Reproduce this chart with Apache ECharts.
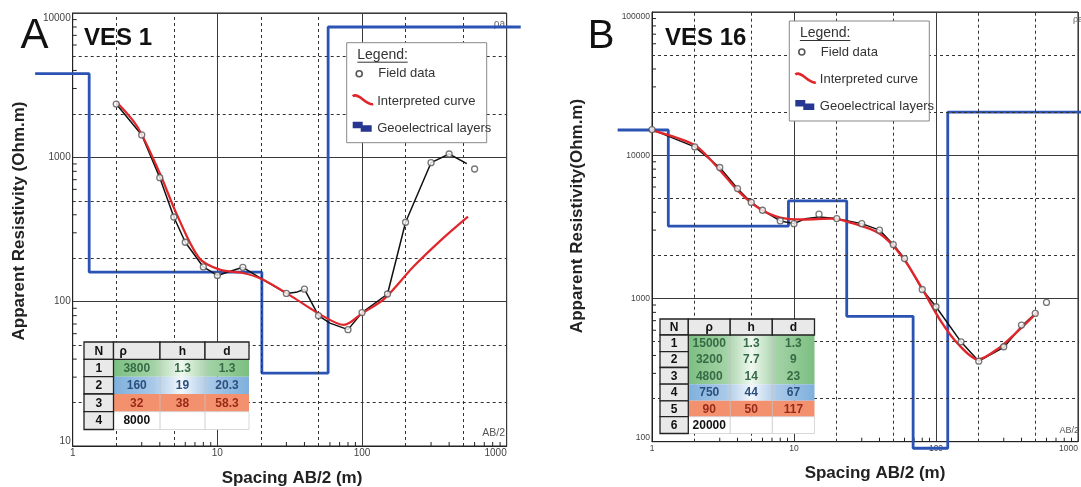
<!DOCTYPE html>
<html><head><meta charset="utf-8">
<script src="https://cdn.jsdelivr.net/npm/echarts@6/dist/echarts.min.js"></script>
<style>html,body{margin:0;padding:0;background:#fff}#c{width:1081px;height:487px}</style>
</head><body><div id="c"></div>
<script>
// ================= DATA =================
// Panel A : VES 1
const fieldA_AB  = [2,3,4,5,6,8,10,15,30,40,50,80,100,150,200,300,400,600];
const fieldA_Rho = [2340,1430,723,386,258,174,152,173,114,122,80,64,84,113,355,918,1055,830];
const traceA_AB  = [2,3,4,5,6,8,10,15,20,30,35,40,50,60,80,100,150,200,300,400,530];
const traceA_Rho = [2340,1430,723,386,258,174,152,173,145,114,116,122,80,71,64,84,113,355,918,1055,905];
const fitA_AB    = [2,2.8,4,5.2,7.5,10.5,15,20.4,33,52,75,100,143,227,353,540];
const fitA_Rho   = [2430,1630,775,410,200,166,158,143,108,81,69,83,105,175,268,388];
const layersA_rho = [3800,160,32,8000];
const layersA_h   = [1.3,19,38];
const layersA_d   = [1.3,20.3,58.3];
const layersA_ends = [0.55,1250];

// Panel B : VES 16
const fieldB_AB  = [1,2,3,4,5,6,8,10,15,20,30,40,50,60,80,100,150,200,300,400,500,600];
const fieldB_Rho = [15100,11430,8210,5850,4680,4130,3480,3330,3875,3610,3330,3000,2380,1900,1155,875,498,365,460,652,786,938];
const traceB_AB  = [1,2,3,4,5,6,8,10,12,15,20,30,40,50,60,80,100,150,200,300,400,500];
const traceB_Rho = [15100,11430,8210,5850,4680,4130,3480,3330,3600,3710,3610,3330,3000,2380,1900,1155,875,498,365,455,640,786];
const fitB_AB    = [1,2,2.94,4.1,5.7,8,11.7,18.3,24,40,58,81,107,142,198,275,383,520];
const fitB_Rho   = [14930,11750,8070,5550,4250,3670,3560,3610,3430,2840,1950,1143,706,485,375,448,601,807];
const layersB_rho = [15000,3200,4800,750,90,20000];
const layersB_h   = [1.3,7.7,14,44,50];
const layersB_d   = [1.3,9,23,67,117];
const layersB_ends = [0.575,1000];

// axis tick values
const dashedX  = [2,5,20,50,200,500];
const dashedYA = [20,50,200,500,2000,5000];
const dashedYB = [200,500,2000,5000,20000,50000];
const minorX   = [3,4,6,7,8,9,30,40,60,70,80,90,300,400,600,700,800,900];
const minorYA  = [30,40,60,70,80,90,300,400,600,700,800,900,3000,4000,6000,7000,8000,9000];
const minorYB  = [300,400,600,700,800,900,3000,4000,6000,7000,8000,9000,30000,40000,60000,70000,80000,90000];

// ================= HELPERS =================
const FF = '"Liberation Sans", Arial, sans-serif';
const zip = (a,b) => a.map((v,i)=>[v,b[i]]);
function layerSteps(rho, depth, ends){
  const pts=[[ends[0],rho[0]]];
  for(let i=0;i<depth.length;i++){pts.push([depth[i],rho[i]]);pts.push([depth[i],rho[i+1]]);}
  pts.push([ends[1],rho[rho.length-1]]);
  return pts;
}
function xAxisDef(gi,fs){
  return {type:'log',logBase:10,gridIndex:gi,min:1,max:1000,
    axisLine:{show:true,lineStyle:{color:'#222',width:1}},axisTick:{show:false},
    splitLine:{show:true,lineStyle:{color:'#3a3a3a',width:1}},
    axisLabel:{show:true,fontSize:fs,fontFamily:FF,color:'#444',margin:2,showMinLabel:true,showMaxLabel:true,
      alignMaxLabel:'right',formatter:v=>String(Math.round(v))}};
}
function yAxisDef(gi,min,max,fs){
  return {type:'log',logBase:10,gridIndex:gi,min,max,
    axisLine:{show:true,lineStyle:{color:'#222',width:1}},axisTick:{show:false},
    splitLine:{show:true,lineStyle:{color:'#3a3a3a',width:1}},
    axisLabel:{show:true,fontSize:fs,fontFamily:FF,color:'#444',margin:2,showMinLabel:true,showMaxLabel:true,
      verticalAlignMinLabel:'bottom',verticalAlignMaxLabel:'top',formatter:v=>String(Math.round(v))}};
}
function hiddenAxis(gi,min,max){
  return {type:'log',logBase:10,gridIndex:gi,min,max,show:false,splitLine:{show:false}};
}
function dashedSeries(gi,xs,ys){
  return {type:'line',xAxisIndex:gi,yAxisIndex:gi,data:[],silent:true,z:1,showSymbol:false,
    markLine:{silent:true,symbol:['none','none'],label:{show:false},animation:false,
      lineStyle:{type:[3,3],color:'#333',width:1},
      emphasis:{disabled:true},
      data:[...xs.map(v=>({xAxis:v})),...ys.map(v=>({yAxis:v}))]}};
}
function tickSeries(gi,vals,isX,other){
  return {type:'custom',xAxisIndex:gi,yAxisIndex:gi,silent:true,z:3,
    data: vals.map(v=> isX?[v,other]:[other,v]),
    renderItem:(p,api)=>{
      const c=api.coord([api.value(0),api.value(1)]);
      const shape = isX?{x1:c[0],y1:c[1],x2:c[0],y2:c[1]-4}:{x1:c[0],y1:c[1],x2:c[0]+4,y2:c[1]};
      return {type:'line',shape,style:{stroke:'#222',lineWidth:1}};
    }};
}
function txt(s,x,y,font,fill,align,extra){
  return Object.assign({type:'text',x,y,z:100,style:{text:s,font,fill:fill||'#222',
    align:align||'left',textAlign:align||'left',verticalAlign:'middle',textVerticalAlign:'middle'}},extra||{});
}
function legendGraphics(x0,y0){
  const F13='13px '+FF;
  return [
    {type:'rect',z:99,shape:{x:x0,y:y0,width:140,height:100},style:{fill:'#fff',stroke:'#888',lineWidth:1}},
    txt('Legend:',x0+10.6,y0+12.5,'14px '+FF,'#333'),
    {type:'line',z:100,shape:{x1:x0+10.6,y1:y0+19.5,x2:x0+61,y2:y0+19.5},style:{stroke:'#333',lineWidth:1}},
    {type:'circle',z:100,shape:{cx:x0+12.5,cy:y0+31,r:3},style:{fill:'#fff',stroke:'#555',lineWidth:1.6}},
    txt('Field data',x0+31.5,y0+31,F13,'#333'),
    {type:'bezierCurve',z:100,shape:{x1:x0+6,y1:y0+53.5,cpx1:x0+12,cpy1:y0+49,cpx2:x0+19,cpy2:y0+63,x2:x0+26.5,y2:y0+61.5},
      style:{stroke:'#e0262b',lineWidth:2.6,fill:null}},
    txt('Interpreted curve',x0+30.5,y0+58.5,F13,'#333'),
    {type:'polygon',z:100,shape:{points:[[x0+6,y0+79],[x0+16,y0+79],[x0+16,y0+82.5],[x0+25,y0+82.5],[x0+25,y0+89],[x0+14,y0+89],[x0+14,y0+85.5],[x0+6,y0+85.5]]},
      style:{fill:'#273690'}},
    txt('Geoelectrical layers',x0+30.5,y0+85.5,F13,'#333')
  ];
}
const bandStyle = {
  g:{fill:{type:'linear',x:0,y:0,x2:1,y2:0,colorStops:[{offset:0,color:'#7cbf81'},{offset:0.3,color:'#a3d2a6'},{offset:0.5,color:'#f0f8f0'},{offset:0.7,color:'#a3d2a6'},{offset:1,color:'#7cbf81'}]},text:'#356b45'},
  b:{fill:{type:'linear',x:0,y:0,x2:1,y2:0,colorStops:[{offset:0,color:'#7eb0dc'},{offset:0.3,color:'#aac9e8'},{offset:0.5,color:'#f2f7fc'},{offset:0.7,color:'#aac9e8'},{offset:1,color:'#7eb0dc'}]},text:'#2b4f7e'},
  r:{fill:'#f3916f',text:'#9a2a18'},
  w:{fill:'#ffffff',text:'#111'}
};
function tableGraphics(xs,ys,rho,h,d,classes,rhoHeadAlign){
  const els=[]; const FB='bold 12px '+FF;
  const n=rho.length;
  let i=0;
  while(i<n){
    let j=i; while(j+1<n && classes[j+1]===classes[i]) j++;
    const st=bandStyle[classes[i]];
    els.push({type:'rect',z:100,shape:{x:xs[1],y:ys[i+1],width:xs[4]-xs[1],height:ys[j+2]-ys[i+1]},
      style:{fill:st.fill,stroke:classes[i]==='w'?'#cfcfcf':null,lineWidth:0.8}});
    i=j+1;
  }
  [2,3].forEach(c=>els.push({type:'line',z:101,shape:{x1:xs[c],y1:ys[1],x2:xs[c],y2:ys[n+1]},style:{stroke:'#c4c4c4',lineWidth:0.8}}));
  const hd=['N','ρ','h','d'];
  for(let c=0;c<4;c++){
    els.push({type:'rect',z:102,shape:{x:xs[c],y:ys[0],width:xs[c+1]-xs[c],height:ys[1]-ys[0]},style:{fill:'#e9e9e9',stroke:'#222',lineWidth:1.3}});
    let al='center', xx=(xs[c]+xs[c+1])/2;
    if(c===1 && rhoHeadAlign==='left'){al='left'; xx=xs[1]+6;}
    els.push(txt(hd[c],xx,(ys[0]+ys[1])/2+1,FB,'#111',al,{z:103}));
  }
  for(let r=0;r<n;r++){
    const cy=(ys[r+1]+ys[r+2])/2+0.5;
    els.push({type:'rect',z:102,shape:{x:xs[0],y:ys[r+1],width:xs[1]-xs[0],height:ys[r+2]-ys[r+1]},style:{fill:'#e9e9e9',stroke:'#222',lineWidth:1.3}});
    els.push(txt(String(r+1),(xs[0]+xs[1])/2,cy,FB,'#111','center',{z:103}));
    const col=bandStyle[classes[r]].text;
    els.push(txt(String(rho[r]),(xs[1]+xs[2])/2,cy,FB,col,'center',{z:103}));
    if(r<h.length){
      els.push(txt(String(h[r]),(xs[2]+xs[3])/2,cy,FB,col,'center',{z:103}));
      els.push(txt(String(d[r]),(xs[3]+xs[4])/2,cy,FB,col,'center',{z:103}));
    }
  }
  return els;
}

// ================= CHART =================
const chart = echarts.init(document.getElementById('c'),null,{renderer:'canvas',width:1081,height:487});
const TB='bold 17px '+FF;
const graphics = [].concat(
  [txt('A',34.5,36,'42px '+FF,'#111','center'),
   txt('B',601,37,'40px '+FF,'#111','center'),
   txt('VES 1',84,38,'bold 24px '+FF,'#111','left'),
   txt('VES 16',665,38,'bold 24px '+FF,'#111','left'),
   txt('Apparent Resistivity (Ohm.m)',19,221,TB,'#222','center',{rotation:Math.PI/2}),
   txt('Apparent Resistivity(Ohm.m)',577,216,TB,'#222','center',{rotation:Math.PI/2}),
   txt('Spacing AB/2 (m)',292,478,TB,'#222','center'),
   txt('Spacing AB/2 (m)',875,473,TB,'#222','center'),
   txt('AB/2',505,433.5,'10.5px '+FF,'#555','right'),
   txt('AB/2',1079,431,'9px '+FF,'#555','right'),
   txt('ρa',505,24,'10px '+FF,'#666','right',{z:1}),
   txt('ρa',1083,20,'9px '+FF,'#666','right',{z:1})
  ],
  legendGraphics(346.7,42.7),
  legendGraphics(789.3,21),
  tableGraphics([84,113.5,160,205,249],[342,359.3,376.7,394,411.7,429.5],layersA_rho,layersA_h,layersA_d,['g','b','r','w'],'left'),
  tableGraphics([660,688.3,730.2,772.3,814.5],[319,335,351.7,367.5,384.2,400.8,416.7,433.5],layersB_rho,layersB_h,layersB_d,['g','g','g','b','r','w'],'center')
);

// Visible plot boxes, plus wider hidden boxes (kept inside the canvas) on the same scale
// so the layer model can run past the plot frame like in the original figure.
const dxA=434/3, dyB=429.7/3, dxB=429/3;
const option = {
  animation:false,
  backgroundColor:'#fff',
  grid:[
    {left:72.7,top:13,width:434,height:433,show:true,borderColor:'#222',borderWidth:1,backgroundColor:'transparent'},
    {left:652,top:12,width:429,height:429.7,show:true,borderColor:'#222',borderWidth:1,backgroundColor:'transparent'},
    {left:72.7-0.5*dxA,top:13,width:434+dxA,height:433,show:false},
    {left:652-0.5*dxB,top:12,width:429+0.5*dxB,height:429.7+0.1*dyB,show:false}
  ],
  xAxis:[xAxisDef(0,10),xAxisDef(1,8.5),
    hiddenAxis(2,Math.pow(10,-0.5),Math.pow(10,3.5)),hiddenAxis(3,Math.pow(10,-0.5),1000)],
  yAxis:[yAxisDef(0,10,10000,10),yAxisDef(1,100,100000,8.5),
    hiddenAxis(2,10,10000),hiddenAxis(3,Math.pow(10,1.9),100000)],
  graphic:{elements:graphics},
  series:[
    dashedSeries(0,dashedX,dashedYA),
    dashedSeries(1,dashedX,dashedYB),
    tickSeries(0,minorX,true,10), tickSeries(0,minorYA,false,1),
    tickSeries(1,minorX,true,100), tickSeries(1,minorYB,false,1),
    {type:'line',name:'Geoelectrical layers A',xAxisIndex:2,yAxisIndex:2,data:layerSteps(layersA_rho,layersA_d,layersA_ends),
      showSymbol:false,clip:false,z:4,lineStyle:{color:'#2b53b3',width:2.8}},
    {type:'line',name:'Geoelectrical layers B',xAxisIndex:3,yAxisIndex:3,data:layerSteps(layersB_rho,layersB_d,layersB_ends),
      showSymbol:false,clip:false,z:4,lineStyle:{color:'#2b53b3',width:2.8}},
    {type:'line',name:'Field trace A',xAxisIndex:0,yAxisIndex:0,data:zip(traceA_AB,traceA_Rho),showSymbol:false,z:5,lineStyle:{color:'#111',width:1.5}},
    {type:'line',name:'Field trace B',xAxisIndex:1,yAxisIndex:1,data:zip(traceB_AB,traceB_Rho),showSymbol:false,z:5,lineStyle:{color:'#111',width:1.5}},
    {type:'line',name:'Interpreted A',xAxisIndex:0,yAxisIndex:0,data:zip(fitA_AB,fitA_Rho),showSymbol:false,smooth:0.3,z:6,lineStyle:{color:'#e0262b',width:2.2}},
    {type:'line',name:'Interpreted B',xAxisIndex:1,yAxisIndex:1,data:zip(fitB_AB,fitB_Rho),showSymbol:false,smooth:0.3,z:6,lineStyle:{color:'#e0262b',width:2.4}},
    {type:'scatter',name:'Field data A',xAxisIndex:0,yAxisIndex:0,data:zip(fieldA_AB,fieldA_Rho),symbol:'circle',symbolSize:6,z:7,
      itemStyle:{color:'#fff',borderColor:'#555',borderWidth:1.3}},
    {type:'scatter',name:'Field data B',xAxisIndex:1,yAxisIndex:1,data:zip(fieldB_AB,fieldB_Rho),symbol:'circle',symbolSize:6,z:7,
      itemStyle:{color:'#fff',borderColor:'#555',borderWidth:1.3}}
  ]
};
chart.setOption(option);
</script></body></html>
